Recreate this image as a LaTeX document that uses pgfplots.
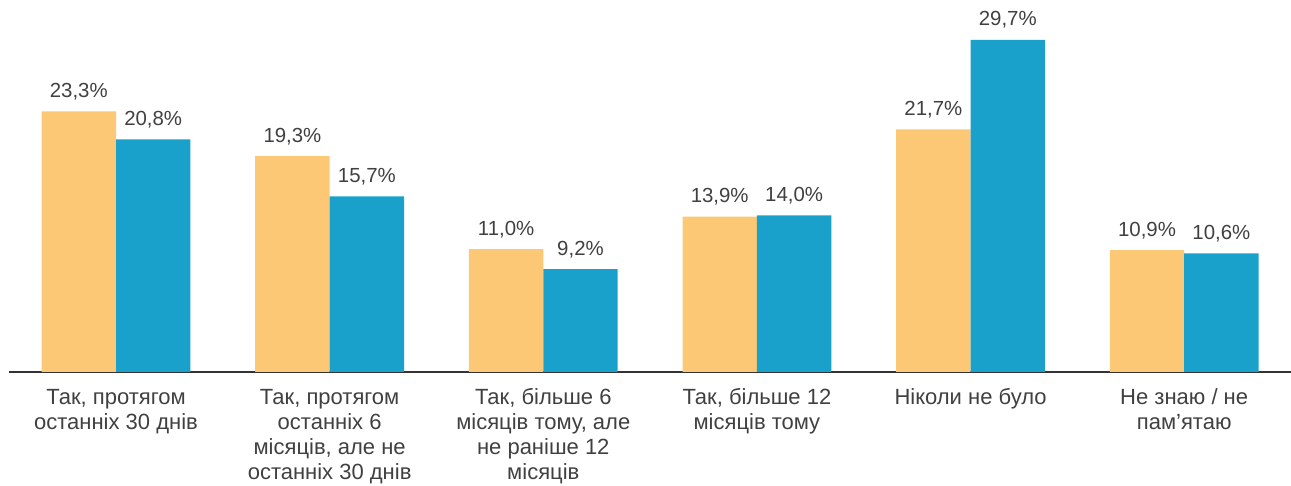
\documentclass[border=0pt]{standalone}
\usepackage{pgfplots}
\pgfplotsset{compat=1.18}
\usepackage{fontspec}
\setmainfont{Liberation Sans}
\definecolor{cY}{HTML}{FDC875}
\definecolor{cB}{HTML}{19A1CC}
\definecolor{txt}{HTML}{404040}
\definecolor{axl}{HTML}{333333}
\begin{document}
\begin{tikzpicture}
\begin{axis}[
  at={(0,0)}, anchor=south west,
  scale only axis, width=640.9pt, height=186pt,
  xmin=-0.5, xmax=5.5, ymin=0, ymax=33.27,
  axis y line=none, axis x line=bottom,
  x axis line style={-, color=axl, line width=0.8pt},
  xtick={0,1,2,3,4,5}, major tick length=0pt,
  xticklabels={{\rule{0pt}{8.75pt}Так, протягом\\останніх 30 днів},{\rule{0pt}{8.75pt}Так, протягом\\останніх 6\\місяців, але не\\останніх 30 днів},{\rule{0pt}{8.75pt}Так, більше 6\\місяців тому, але\\не раніше 12\\місяців},{\rule{0pt}{8.75pt}Так, більше 12\\місяців тому},{\rule{0pt}{8.75pt}Ніколи не було},{\rule{0pt}{8.75pt}Не знаю / не\\пам’ятаю}},
  xticklabel style={align=center, font=\fontsize{11}{12.5}\selectfont, text=txt, inner sep=0pt, anchor=north, yshift=-7.25pt},
  ybar=0pt, bar width=37.2pt,
  nodes near coords, point meta=explicit symbolic,
  every node near coord/.append style={font=\fontsize{10.2}{12}\selectfont, text=txt, anchor=base, inner sep=0pt, yshift=7pt},
  clip=false,
]
\addplot[fill=cY, draw=none] coordinates {(0,23.3)[23,3\%] (1,19.3)[19,3\%] (2,11.0)[11,0\%] (3,13.9)[13,9\%] (4,21.7)[21,7\%] (5,10.9)[10,9\%]};
\addplot[fill=cB, draw=none] coordinates {(0,20.8)[20,8\%] (1,15.7)[15,7\%] (2,9.2)[9,2\%] (3,14.0)[14,0\%] (4,29.7)[29,7\%] (5,10.6)[10,6\%]};
\end{axis}
\pgfresetboundingbox
\path[use as bounding box] (-4.6pt,-57pt) rectangle (640.9pt,186pt);
\end{tikzpicture}
\end{document}
